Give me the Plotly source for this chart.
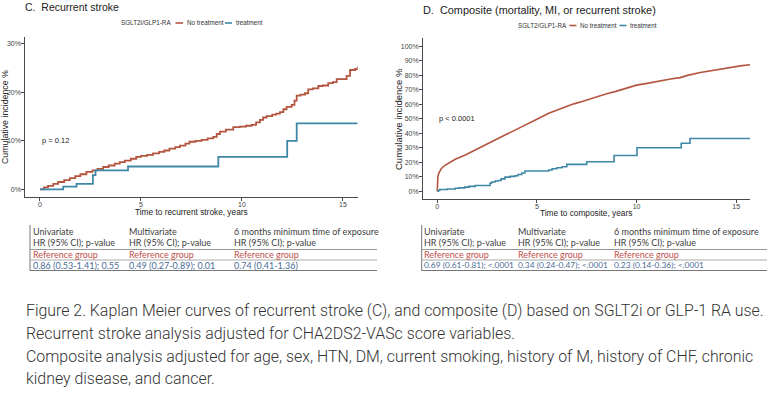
import plotly.graph_objects as go

W, H = 772, 396

# ---------------- data ----------------
# Panel C: recurrent stroke (cumulative incidence %)
c_notx_t = [0, 0.2, 0.4, 0.66, 0.9, 1.2, 1.48, 1.75, 2.0, 2.3, 2.6, 2.85, 3.13, 3.4, 3.7, 3.95, 4.2, 4.5,
            4.77, 5.0, 5.3, 5.6, 5.9, 6.15, 6.41, 6.7, 6.93, 7.2, 7.4, 7.7, 8.0, 8.3, 8.58, 8.75, 8.91,
            9.2, 9.57, 9.9, 10.2, 10.48, 10.7, 10.89, 11.05, 11.22, 11.5, 11.7, 11.88, 12.05, 12.21,
            12.46, 12.6, 12.71, 12.9, 13.12, 13.28, 13.5, 13.78, 14.0, 14.27, 14.5, 14.69, 15.18,
            15.35, 15.6, 15.73]
c_notx_v = [0, 0.4, 0.7, 1.1, 1.5, 1.9, 2.3, 2.7, 3.1, 3.6, 3.9, 4.2, 4.6, 4.9, 5.3, 5.6, 5.9, 6.3,
            6.7, 6.9, 7.1, 7.4, 7.7, 8.0, 8.4, 8.7, 9.0, 9.4, 9.8, 10.0, 10.2, 10.5, 10.8, 11.4, 11.9,
            12.3, 12.8, 12.9, 13.1, 13.3, 13.8, 14.3, 14.8, 15.1, 15.4, 15.6, 15.9, 16.5, 17.0,
            17.4, 18.3, 19.3, 19.5, 19.8, 20.6, 20.8, 21.3, 21.4, 21.9, 22.1, 22.7, 23.4,
            24.6, 24.8, 25.3]
c_tx_t = [0, 1.15, 1.81, 2.62, 2.75, 4.36, 8.83, 12.24, 12.71, 15.73]
c_tx_v = [0, 0.55, 1.1, 2.9, 3.9, 4.7, 6.7, 10.0, 13.6, 13.6]

# Panel D: composite (cumulative incidence %)
d_notx_t = [0, 0.01, 0.03, 0.08, 0.2, 0.35, 0.54, 0.9, 1.38, 1.8, 2.22, 2.6, 3.06, 3.5, 3.9, 4.3,
            4.75, 5.2, 5.59, 6.0, 6.43, 6.85, 7.27, 7.7, 8.11, 8.5, 8.96, 9.5, 10.0, 10.6, 11.2,
            11.7, 12.18, 12.6, 13.2, 13.85, 14.3, 14.8, 15.2, 15.69]
d_notx_v = [0, 5, 9.7, 12.5, 15.5, 17.5, 19, 22, 24.8, 27.8, 30.6, 33.2, 36.3, 39.4, 42.1, 45,
            47.9, 51, 53.7, 55.8, 58.3, 60.2, 61.8, 63.8, 65.7, 67.2, 68.8, 71, 73.1, 74.5, 76.2,
            77.3, 78.3, 80, 81.8, 83.4, 84.6, 85.7, 86.4, 87.2]
d_tx_t = [0, 0.05, 0.12, 0.5, 0.9, 1.1, 1.38, 1.6, 1.9, 2.65, 2.72, 2.9, 3.06, 3.2, 3.4, 3.65, 3.9,
          4.05, 4.24, 4.4, 5.59, 5.76, 6.0, 6.26, 6.5, 7.5, 8.87, 10.02, 12.24, 12.68, 15.69]
d_tx_v = [0, 0.5, 1.2, 1.5, 2.0, 2.3, 2.8, 3.3, 3.9, 5.5, 6.3, 7.0, 7.4, 8.5, 9.7, 10.2, 10.6,
          11.5, 12.5, 13.9, 14.6, 15.5, 16.2, 16.8, 18.5, 20.3, 24.6, 29.9, 33.0, 36.3, 36.3]

c_yticks = [0, 10, 20, 30]
d_yticks = [0, 10, 20, 30, 40, 50, 60, 70, 80, 90, 100]
x_ticks = [0, 5, 10, 15]

table_cols = ["Univariate", "Multivariate", "6 months minimum time of exposure"]
table_sub = "HR (95% CI); p-value"
table_ref = "Reference group"
c_hr = ["0.86 (0.53-1.41); 0.55", "0.49 (0.27-0.89); 0.01", "0.74 (0.41-1.36)"]
d_hr = ["0.69 (0.61-0.81); <.0001", "0.34 (0.24-0.47); <.0001", "0.23 (0.14-0.36); <.0001"]

caption = [
    "Figure 2. Kaplan Meier curves of recurrent stroke (C), and composite (D) based on SGLT2i or GLP-1 RA use.",
    "Recurrent stroke analysis adjusted for CHA2DS2-VASc score variables.",
    "Composite analysis adjusted for age, sex, HTN, DM, current smoking, history of M, history of CHF, chronic",
    "kidney disease, and cancer.",
]

RED = "#B4553F"
BLUE = "#3F87A6"
AX = "#4a4a4a"
ARIAL = "Liberation Sans, Arial, sans-serif"
CALIBRI = "Lato, Open Sans, sans-serif"


def px(x):
    return x / W


def py(y):
    return 1 - y / H


fig = go.Figure()
fig.add_trace(go.Scatter(x=c_notx_t, y=c_notx_v, mode="lines", line=dict(color=RED, width=1.8, shape="hv"),
                         xaxis="x", yaxis="y", showlegend=False))
fig.add_trace(go.Scatter(x=c_tx_t, y=c_tx_v, mode="lines", line=dict(color=BLUE, width=1.8, shape="hv"),
                         xaxis="x", yaxis="y", showlegend=False))
fig.add_trace(go.Scatter(x=d_notx_t, y=d_notx_v, mode="lines", line=dict(color=RED, width=1.6, shape="linear"),
                         xaxis="x2", yaxis="y2", showlegend=False))
fig.add_trace(go.Scatter(x=d_tx_t, y=d_tx_v, mode="lines", line=dict(color=BLUE, width=1.6, shape="hv"),
                         xaxis="x2", yaxis="y2", showlegend=False))

axis_common = dict(showline=True, linecolor=AX, linewidth=1.3, ticks="outside", ticklen=2.5, tickwidth=1,
                   tickcolor=AX, showgrid=False, zeroline=False, tickfont=dict(family=ARIAL, size=7, color="#444"),
                   fixedrange=True)
xax = dict(axis_common, ticklabelstandoff=-2)
yax = dict(axis_common, ticklabelstandoff=-1)

fig.update_layout(
    width=W, height=H, autosize=False,
    margin=dict(l=0, r=0, t=0, b=0),
    paper_bgcolor="white", plot_bgcolor="white",
    xaxis=dict(domain=[px(25), px(357.7)], range=[-0.74, 15.73], tickvals=x_ticks, anchor="y", **xax),
    yaxis=dict(domain=[py(197), py(37)], range=[-1.59, 31.4], tickvals=c_yticks,
               ticktext=[f"{v}%" for v in c_yticks], anchor="x", **yax),
    xaxis2=dict(domain=[px(422.7), px(750)], range=[-0.73, 15.69], tickvals=x_ticks, anchor="y2", **xax),
    yaxis2=dict(domain=[py(199.3), py(38.3)], range=[-5.6, 105.4], tickvals=d_yticks,
                ticktext=[f"{v}%" for v in d_yticks], anchor="x2", **yax),
)

ann = []
shapes = []


def text(x, y, s, size, color="#222", family=ARIAL, xanchor="left", textangle=0, weight=None):
    f = dict(family=family, size=size, color=color)
    if weight:
        f["weight"] = weight
    ann.append(dict(x=px(x), y=py(y), xref="paper", yref="paper", text=s, showarrow=False,
                    xanchor=xanchor, yanchor="middle", textangle=textangle, borderpad=0, font=f))


def hline(x0, x1, y, color, width=1):
    shapes.append(dict(type="line", xref="paper", yref="paper", x0=px(x0), x1=px(x1), y0=py(y), y1=py(y),
                       line=dict(color=color, width=width)))


def vline(x, y0, y1, color, width=1):
    shapes.append(dict(type="line", xref="paper", yref="paper", x0=px(x), x1=px(x), y0=py(y0), y1=py(y1),
                       line=dict(color=color, width=width)))


# titles
text(24, 7.5, "C.  Recurrent stroke", 10.5, "#222")
text(422, 10, "D.  Composite (mortality, MI, or recurrent stroke)", 10.9, "#222")

# legends
text(120, 23, "SGLT2i/GLP1-RA", 6.3, "#333")
hline(175.5, 183, 23, RED, 1.6)
text(185.5, 23, "No treatment", 6.3, "#333")
hline(225, 232, 23, BLUE, 1.6)
text(235, 23, "treatment", 6.3, "#333")

text(516.5, 25.5, "SGLT2/GLP1-RA", 6.3, "#333")
hline(569.5, 576.5, 25.5, RED, 1.6)
text(578.5, 25.5, "No treatment", 6.3, "#333")
hline(619.5, 626.5, 25.5, BLUE, 1.6)
text(629, 25.5, "treatment", 6.3, "#333")

# axis titles
text(5, 117, "Cumulative incidence %", 8.8, "#222", xanchor="center", textangle=-90)
text(191, 211.5, "Time to recurrent stroke, years", 8.3, "#222", xanchor="center")
text(398, 119, "Cumulative incidence %", 9.5, "#222", xanchor="center", textangle=-90)
text(586, 213, "Time to composite, years", 8.3, "#222", xanchor="center")

# p-values in data coordinates
ann.append(dict(x=0, y=10, xref="x", yref="y", text="p = 0.12", showarrow=False, xanchor="left",
                yanchor="middle", font=dict(family=ARIAL, size=7.5, color="#222")))
ann.append(dict(x=0, y=50, xref="x2", yref="y2", text="p < 0.0001", showarrow=False, xanchor="left",
                yanchor="middle", font=dict(family=ARIAL, size=7.5, color="#222")))

# tables
HDR = "#404040"
REDT = "#C0504D"
BLUT = "#4A6B96"
for x0, x1, cols_x, vals, fs in [(30, 377, [32, 128, 233], c_hr, 9), (421.7, 767, [423, 517, 613], d_hr, 8.4)]:
    vline(x0, 225, 271, "#777", 1)
    hline(x0, x1, 249.5, "#999", 1)
    hline(x0, x1, 260, "#aaa", 1)
    hline(x0, x1, 270.5, "#777", 1)
    for cx, head, val in zip(cols_x, table_cols, vals):
        text(cx, 231, head, 9, HDR, CALIBRI)
        text(cx, 242.5, table_sub, 9, HDR, CALIBRI)
        text(cx, 254.5, table_ref, 9, REDT, CALIBRI)
        text(cx, 265, val, fs, BLUT, CALIBRI)

# caption
for line, yy in zip(caption, [310, 333, 356, 378]):
    text(25, yy, line, 15.9, "#333", "Roboto, sans-serif", weight=300)

fig.update_layout(annotations=ann, shapes=shapes)
fig.write_html("out.html", config={"displayModeBar": False},
               post_script="document.body.style.margin='0px';")
